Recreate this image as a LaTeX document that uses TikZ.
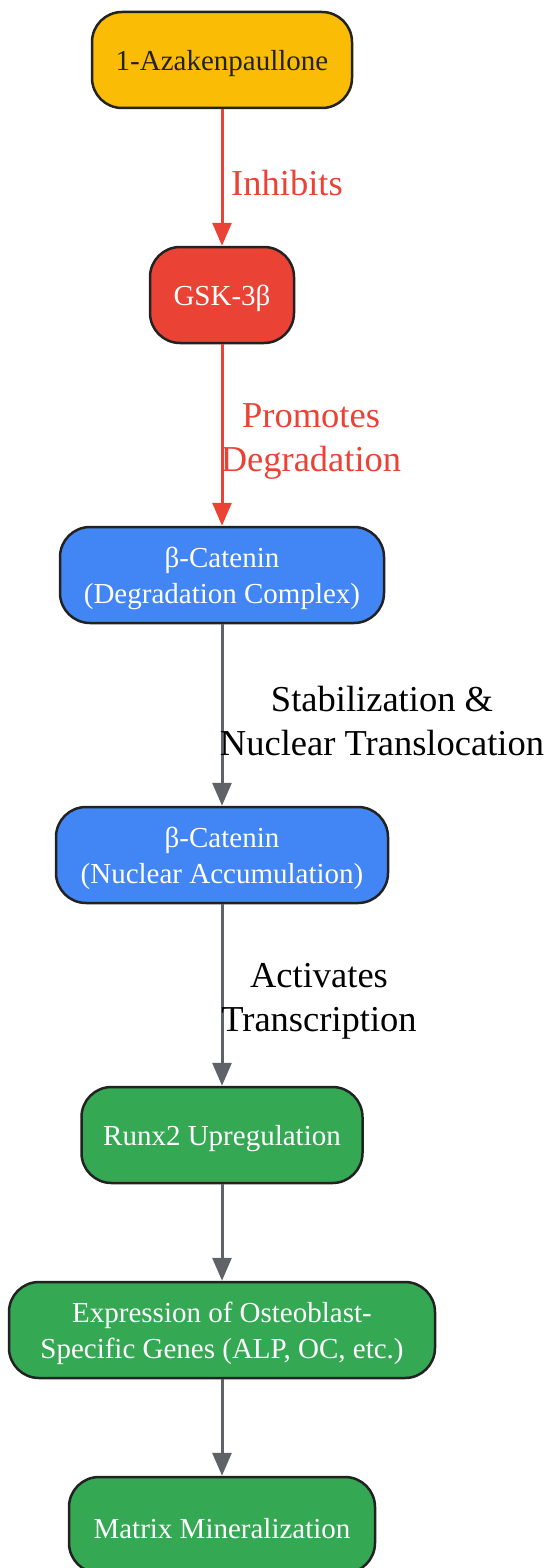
\documentclass[tikz,border=0pt]{standalone}
\usepackage{fontspec}
\setmainfont{Liberation Serif}
\usetikzlibrary{arrows.meta}
\definecolor{cyellow}{HTML}{FBBC05}
\definecolor{cred}{HTML}{EA4335}
\definecolor{cblue}{HTML}{4285F4}
\definecolor{cgreen}{HTML}{34A853}
\definecolor{cgrey}{HTML}{5F6368}
\definecolor{cborder}{HTML}{222222}
\newcommand{\topstrut}{\rule{0pt}{28pt}}
\tikzset{
  box/.style={draw=cborder, line width=2.5pt, rounded corners=30pt, minimum height=96pt,
    inner sep=0pt, align=center, font=\fontsize{29}{36}\selectfont, text=white},
  redline/.style={draw=cred, line width=3pt, -{Triangle[length=23pt,width=19pt]}},
  greyline/.style={draw=cgrey, line width=3pt, -{Triangle[length=23pt,width=19pt]}},
  lab/.style={align=center, font=\fontsize{36.5}{44}\selectfont, inner sep=0pt},
}
\begin{document}
\begin{tikzpicture}[x=1pt,y=-1pt]
\useasboundingbox (0,0) rectangle (552,1568);
\node[box, fill=cyellow, text=cborder, minimum width=260pt] (a) at (222,60) {\topstrut 1-Azakenpaullone};
\node[box, fill=cred, minimum width=144pt] (b) at (222,295) {\topstrut GSK-3β};
\node[box, fill=cblue, minimum width=324pt] (c) at (222,575) {\topstrut β-Catenin\\(Degradation Complex)};
\node[box, fill=cblue, minimum width=332pt] (d) at (222,855) {\topstrut β-Catenin\\(Nuclear Accumulation)};
\node[box, fill=cgreen, minimum width=281pt] (e) at (222,1135) {\topstrut Runx2 Upregulation};
\node[box, fill=cgreen, minimum width=426pt] (f) at (222,1330) {\topstrut Expression of Osteoblast-\\Specific Genes (ALP, OC, etc.)};
\node[box, fill=cgreen, minimum width=306pt] (g) at (222,1525) {\topstrut Matrix Mineralization};
\draw[redline] (a) -- (b);
\draw[redline] (b) -- (c);
\draw[greyline] (c) -- (d);
\draw[greyline] (d) -- (e);
\draw[greyline] (e) -- (f);
\draw[greyline] (f) -- (g);
\node[lab, text=cred] (l1) at (287,183) {Inhibits};
\node[lab, text=cred] (l2) at (311,441) {Promotes\\Degradation};
\node[lab] (l3) at (382,721) {Stabilization \&\\Nuclear Translocation};
\node[lab] (l4) at (319,1001) {Activates\\Transcription};
\end{tikzpicture}
\end{document}
